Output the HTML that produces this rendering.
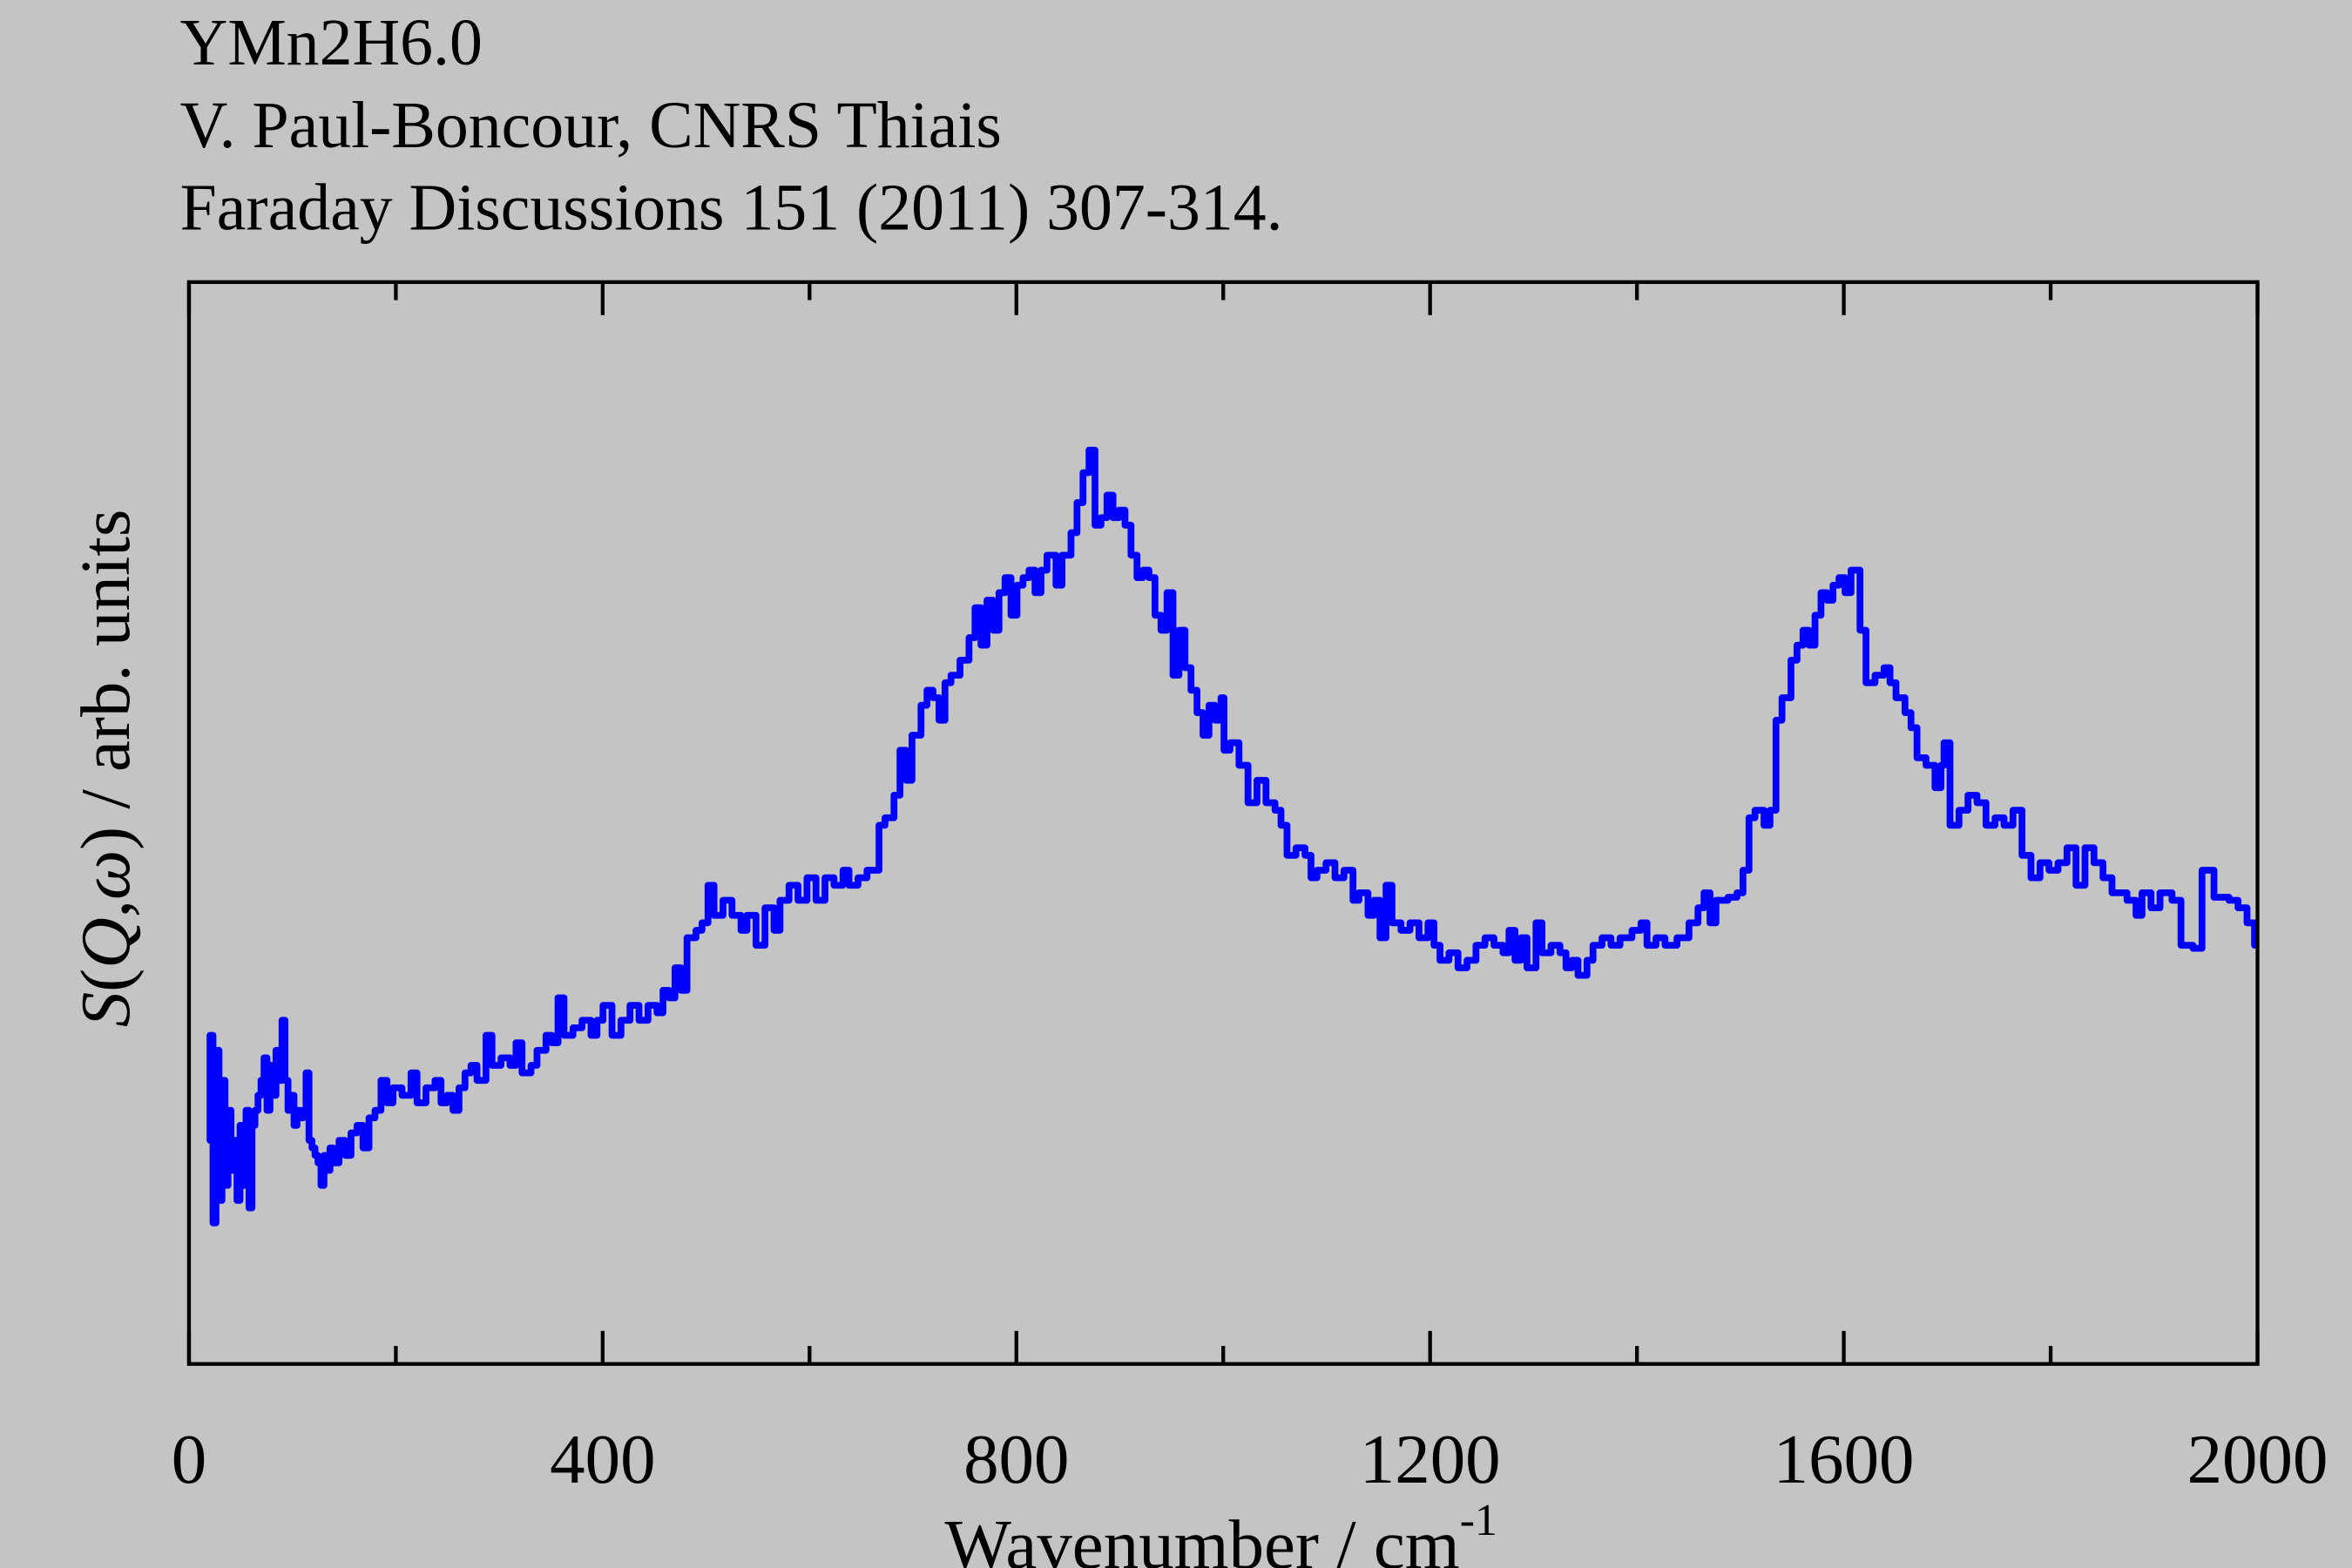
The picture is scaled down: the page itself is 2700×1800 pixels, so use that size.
<!DOCTYPE html>
<html><head><meta charset="utf-8"><style>
html,body{margin:0;padding:0;background:#c4c4c4;}
svg{display:block;}
text{font-family:"Liberation Serif",serif;fill:#000;}
</style></head><body>
<svg width="2700" height="1800" viewBox="0 0 1568 1045" preserveAspectRatio="none" xmlns="http://www.w3.org/2000/svg">
<rect width="1568" height="1045" fill="#c4c4c4"/>
<text x="120" y="43" font-size="44">YMn2H6.0</text>
<text x="120" y="98" font-size="44">V. Paul-Boncour, CNRS Thiais</text>
<text x="120" y="153" font-size="44">Faraday Discussions 151 (2011) 307-314.</text>
<path fill="none" stroke="#0000ff" stroke-width="4.5" stroke-linejoin="round" stroke-linecap="round" d="M140 760 V690 H142 V815 H144 V700 H146 V800 H148 V720 H150 V790 H152 V740 H154 V780 H156 V760 H158 V800 H160 V750 H162 V790 H164 V740 H166 V805 H168 V750 H170 V740 H172 V730 H174 V720 H176 V705 H178 V740 H180 V710 H182 V730 H184 V700 H186 V720 H188 V680 H190 V720 H192 V740 H194 V730 H196 V750 H198 V740 H200 V745 H202 V740 H204 V715 H206 V760 H208 V765 H210 V770 H212 V775 H214 V790 H216 V770 H218 V780 H220 V765 H222 V775 H226 V760 H230 V770 H234 V755 H238 V750 H242 V765 H246 V745 H250 V740 H254 V720 H258 V735 H262 V725 H268 V730 H274 V715 H278 V735 H284 V725 H290 V720 H294 V735 H298 V730 H302 V740 H306 V725 H310 V715 H314 V710 H318 V720 H324 V690 H328 V710 H334 V705 H340 V710 H344 V695 H348 V715 H354 V710 H358 V700 H364 V690 H368 V695 H372 V665 H376 V690 H382 V685 H388 V680 H394 V690 H398 V680 H402 V670 H408 V690 H414 V680 H420 V670 H426 V680 H432 V670 H438 V675 H442 V660 H446 V665 H450 V645 H454 V660 H458 V625 H464 V620 H468 V615 H472 V590 H476 V610 H482 V600 H488 V610 H494 V620 H498 V610 H504 V630 H510 V605 H516 V620 H520 V600 H526 V590 H532 V600 H538 V585 H544 V600 H550 V585 H556 V590 H562 V580 H566 V590 H572 V585 H578 V580 H586 V550 H590 V545 H596 V530 H600 V500 H604 V520 H608 V490 H614 V470 H618 V460 H622 V465 H626 V480 H630 V455 H634 V450 H640 V440 H646 V425 H650 V405 H654 V430 H658 V400 H662 V420 H666 V395 H670 V385 H674 V410 H678 V390 H682 V385 H686 V380 H690 V395 H694 V380 H698 V370 H704 V390 H708 V370 H714 V355 H718 V335 H722 V315 H726 V300 H730 V350 H734 V345 H738 V330 H742 V345 H746 V340 H750 V350 H754 V370 H758 V385 H762 V380 H766 V385 H770 V410 H774 V420 H778 V395 H782 V450 H786 V420 H790 V445 H794 V460 H798 V475 H802 V490 H806 V470 H810 V480 H814 V465 H816 V500 H820 V495 H826 V510 H832 V535 H838 V520 H844 V535 H850 V540 H854 V550 H858 V570 H864 V565 H870 V570 H874 V585 H878 V580 H884 V575 H890 V585 H896 V580 H902 V600 H906 V595 H912 V610 H916 V600 H920 V625 H924 V590 H928 V615 H934 V620 H940 V615 H946 V625 H952 V615 H956 V630 H960 V640 H966 V635 H972 V645 H978 V640 H984 V630 H990 V625 H996 V630 H1002 V635 H1006 V620 H1010 V640 H1014 V625 H1018 V645 H1024 V615 H1028 V635 H1034 V630 H1040 V635 H1044 V645 H1048 V640 H1052 V650 H1058 V640 H1062 V630 H1068 V625 H1074 V630 H1080 V625 H1088 V620 H1094 V615 H1098 V630 H1104 V625 H1110 V630 H1118 V625 H1126 V615 H1132 V605 H1136 V595 H1140 V615 H1144 V600 H1152 V598 H1158 V595 H1162 V580 H1166 V545 H1170 V540 H1176 V550 H1180 V540 H1184 V480 H1188 V465 H1194 V440 H1198 V430 H1202 V420 H1206 V430 H1210 V410 H1214 V395 H1218 V400 H1222 V390 H1226 V385 H1230 V395 H1234 V380 H1240 V420 H1244 V455 H1250 V450 H1256 V445 H1260 V455 H1264 V465 H1270 V475 H1274 V485 H1278 V505 H1284 V510 H1290 V525 H1294 V510 H1296 V495 H1300 V550 H1306 V540 H1312 V530 H1318 V535 H1324 V550 H1330 V545 H1336 V550 H1342 V540 H1348 V570 H1354 V585 H1360 V575 H1366 V580 H1372 V575 H1378 V565 H1384 V590 H1390 V565 H1396 V575 H1402 V585 H1408 V595 H1418 V600 H1424 V610 H1428 V595 H1434 V605 H1440 V595 H1448 V600 H1454 V630 H1462 V632 H1468 V580 H1476 V598 H1486 V600 H1492 V605 H1498 V615 H1503 V630"/>
<rect x="126" y="188" width="1379" height="721" fill="none" stroke="#000" stroke-width="2.5"/>
<g stroke="#000" stroke-width="2.5">
<path d="M126 909 V887 M401.8 909 V887 M677.6 909 V887 M953.4 909 V887 M1229.2 909 V887 M1505 909 V887"/>
<path d="M263.9 909 V897 M539.7 909 V897 M815.5 909 V897 M1091.3 909 V897 M1367.1 909 V897"/>
<path d="M126 188 V210 M401.8 188 V210 M677.6 188 V210 M953.4 188 V210 M1229.2 188 V210 M1505 188 V210"/>
<path d="M263.9 188 V200 M539.7 188 V200 M815.5 188 V200 M1091.3 188 V200 M1367.1 188 V200"/>
</g>
<g font-size="47" text-anchor="middle">
<text x="126" y="988">0</text>
<text x="401.8" y="988">400</text>
<text x="677.6" y="988">800</text>
<text x="953.4" y="988">1200</text>
<text x="1229.2" y="988">1600</text>
<text x="1505" y="988">2000</text>
</g>
<text x="814" y="1045" font-size="47" text-anchor="middle">Wavenumber / cm<tspan font-size="30" dy="-22">-1</tspan></text>
<text transform="translate(86,512) rotate(-90)" font-size="47" text-anchor="middle"><tspan font-style="italic">S</tspan>(<tspan font-style="italic">Q</tspan>,<tspan font-style="italic">ω</tspan>) / arb. units</text>
</svg>
</body></html>
